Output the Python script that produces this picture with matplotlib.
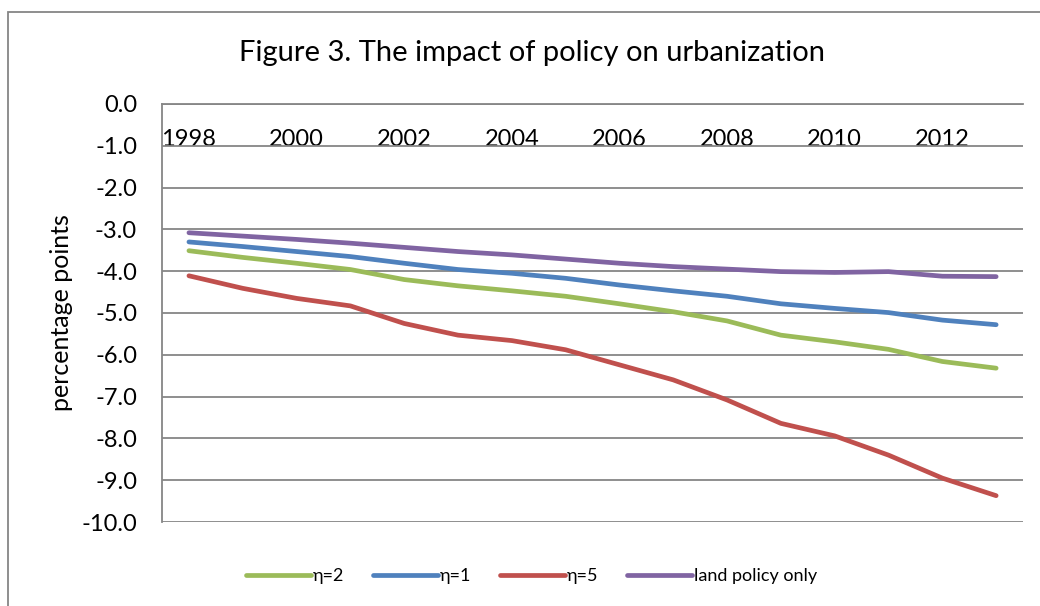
import matplotlib
matplotlib.use("Agg")
import matplotlib.pyplot as plt
import matplotlib.patches as patches
import numpy as np

plt.rcParams['font.family'] = ['Lato', 'DejaVu Sans']

# data
years = list(range(1998, 2014))
eta2 = [-3.51, -3.67, -3.81, -3.96, -4.20, -4.35, -4.47, -4.60,
        -4.78, -4.97, -5.19, -5.53, -5.69, -5.87, -6.16, -6.32]
eta1 = [-3.30, -3.41, -3.53, -3.65, -3.81, -3.96, -4.05, -4.17,
        -4.33, -4.47, -4.60, -4.78, -4.89, -4.99, -5.17, -5.28]
eta5 = [-4.11, -4.41, -4.65, -4.83, -5.25, -5.53, -5.66, -5.88,
        -6.24, -6.60, -7.08, -7.64, -7.94, -8.40, -8.95, -9.37]
land_only = [-3.08, -3.16, -3.24, -3.33, -3.43, -3.53, -3.61, -3.71,
             -3.81, -3.89, -3.95, -4.01, -4.03, -4.01, -4.12, -4.13]
series_labels = ['η=2', 'η=1', 'η=5', 'land policy only']
colors = ['#9BBB59', '#4F81BD', '#C0504D', '#8064A2']
yticks = np.arange(0, -10.5, -1.0)

grey = '#868686'

fig = plt.figure(figsize=(10.4, 6.06), dpi=100)
ax = fig.add_axes([0.1558, 0.1386, 0.8279, 0.6898])

x = np.arange(len(years))
for vals, lab, c in zip([eta2, eta1, eta5, land_only], series_labels, colors):
    ax.plot(x, vals, color=c, lw=3.4, solid_capstyle='round', solid_joinstyle='round', label=lab)

ax.set_xlim(-0.5, len(years) - 0.5)
ax.set_ylim(-10, 0)
ax.set_yticks(yticks)
ax.set_yticklabels([f"{v:.1f}" for v in yticks])
ax.yaxis.grid(True, color=grey, lw=1.3)
ax.set_axisbelow(True)

# category axis crosses at 0, labels sit just below it
ax.set_xticks(x[::2])
ax.set_xticklabels([str(y) for y in years[::2]])
ax.spines['bottom'].set_position(('data', 0))
ax.spines['bottom'].set_color(grey)
ax.spines['bottom'].set_linewidth(1.3)
ax.spines['top'].set_visible(False)
ax.spines['right'].set_visible(False)
ax.spines['left'].set_color(grey)
ax.spines['left'].set_linewidth(1.3)
ax.tick_params(axis='x', length=0, pad=18, labelsize=17)
ax.tick_params(axis='y', length=0, pad=18, labelsize=17)

ax.set_ylabel('percentage points', fontsize=18, labelpad=6)
fig.text(0.512, 0.912, 'Figure 3. The impact of policy on urbanization',
         ha='center', va='center', fontsize=21)

fig.legend(loc='center', bbox_to_anchor=(0.511, 0.0495), ncol=4, frameon=False,
           fontsize=13, handlelength=3.6, handletextpad=0.1, columnspacing=1.6)

# outer chart border
fig.patches.append(patches.Rectangle((0.0077, -0.05), 1.2, 1.03, transform=fig.transFigure,
                                     fill=False, edgecolor=grey, lw=1.3))

fig.savefig('out.png', dpi=100)
plt.close(fig)
